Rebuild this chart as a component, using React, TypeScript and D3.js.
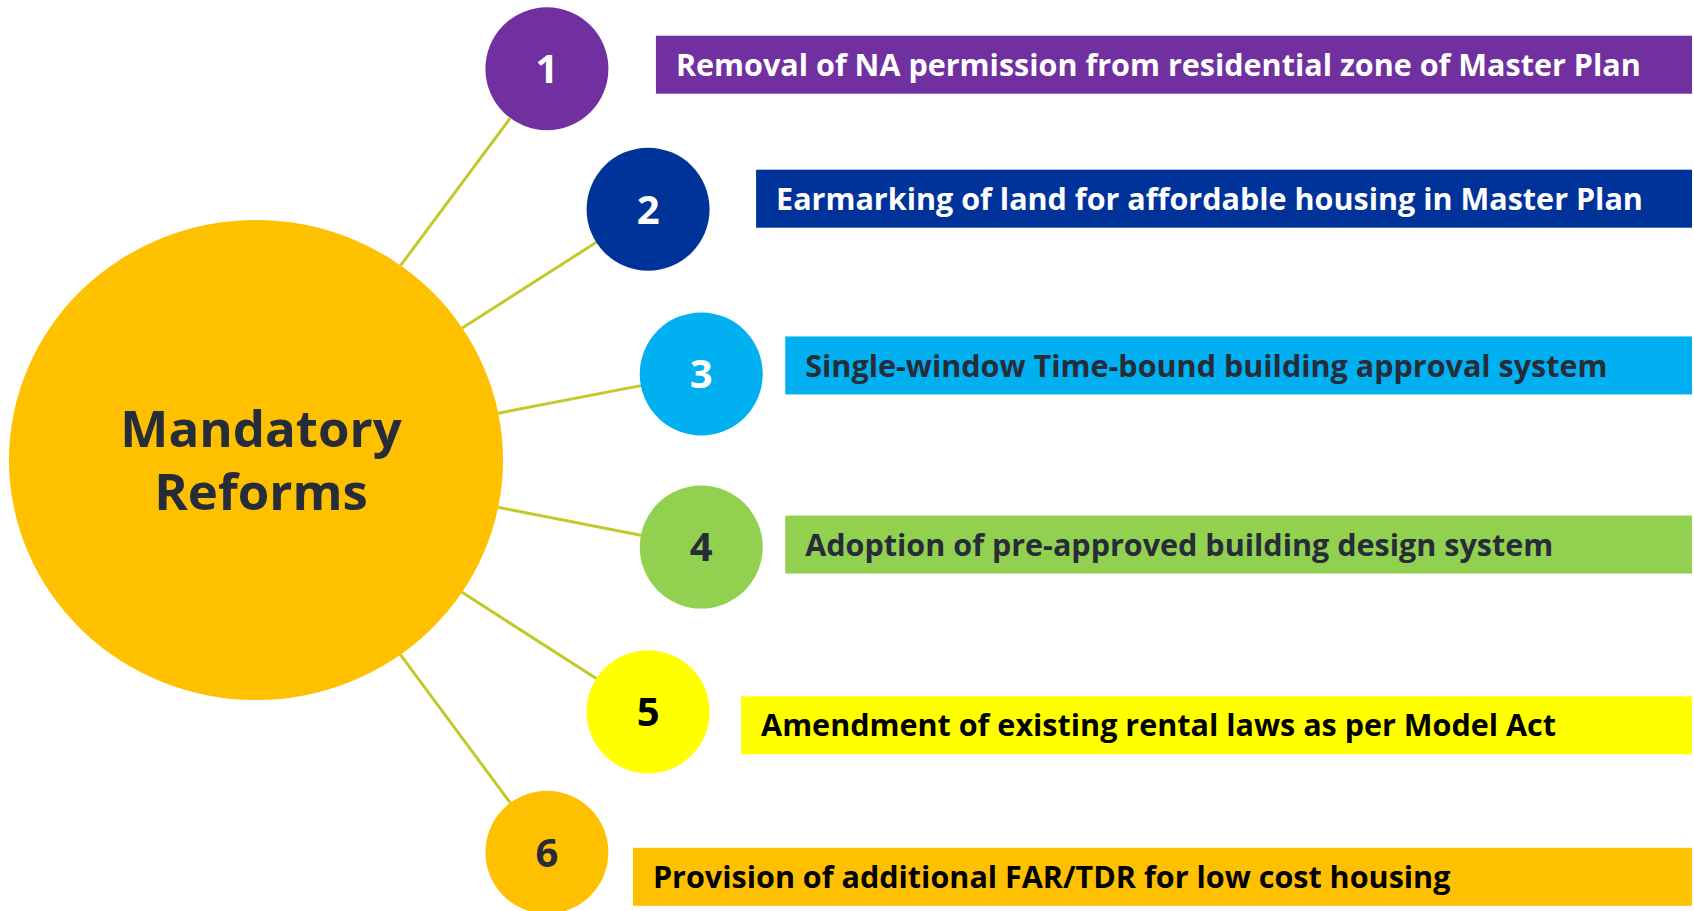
import React from "react";
import * as d3 from "d3";

const centerTitle = ["Mandatory", "Reforms"];
const stepNumbers = ["1", "2", "3", "4", "5", "6"];
const stepLabels = [
  "Removal of NA permission from residential zone of Master Plan",
  "Earmarking of land for affordable housing in Master Plan",
  "Single-window Time-bound building approval system",
  "Adoption of pre-approved building design system",
  "Amendment of existing rental laws as per Model Act",
  "Provision of additional FAR/TDR for low cost housing",
];
const stepFills = ["#7030a0", "#003399", "#00b0f0", "#92d050", "#ffff00", "#ffc000"];
const stepTextColors = ["#ffffff", "#ffffff", "#262c38", "#262c38", "#000000", "#000000"];
const numberColors = ["#ffffff", "#ffffff", "#ffffff", "#262c38", "#000000", "#262c38"];

// layout (not data)
const W = 1694;
const H = 911;
const HUB = { cx: 256, cy: 460, rx: 247, ry: 240, fill: "#ffc000" };
const ORBIT = { cx: 151, cy: 460.5, r: 557 };
const NODE_R = 61.5;
const BAR_H = 58;
const BAR_RIGHT = 1692;
const barShift: [number, number][] = [
  [109, -4],
  [108, -10.5],
  [84, -8.5],
  [84, -2.5],
  [93, 13.5],
  [86, 24.5],
];
const FONT = "'Open Sans', 'Noto Sans', sans-serif";
const CONDENSE = 0.985;

export default function App() {
  const angle = d3
    .scaleLinear()
    .domain([0, stepNumbers.length - 1])
    .range([(-44.7 * Math.PI) / 180, (44.7 * Math.PI) / 180]);

  const nodes = stepNumbers.map((n, i) => {
    const a = angle(i);
    const x = ORBIT.cx + ORBIT.r * Math.cos(a);
    const y = ORBIT.cy + ORBIT.r * Math.sin(a);
    return { n, i, x, y };
  });

  const link = d3.line<[number, number]>();

  return (
    <svg
      width={W}
      height={H}
      viewBox={`0 0 ${W} ${H}`}
      style={{ position: "absolute", left: 0, top: 0, background: "#fff" }}
    >
      <ellipse cx={HUB.cx} cy={HUB.cy} rx={HUB.rx} ry={HUB.ry} fill={HUB.fill} />
      {nodes.map((d) => {
        const dx = d.x - HUB.cx;
        const dy = d.y - HUB.cy;
        const len = Math.hypot(dx, dy);
        const ux = dx / len;
        const uy = dy / len;
        const t = 1 / Math.sqrt((ux * ux) / (HUB.rx * HUB.rx) + (uy * uy) / (HUB.ry * HUB.ry));
        const p0: [number, number] = [HUB.cx + ux * t, HUB.cy + uy * t];
        const p1: [number, number] = [d.x - ux * NODE_R, d.y - uy * NODE_R];
        return (
          <path key={"l" + d.i} d={link([p0, p1]) || ""} stroke="#c3c92b" strokeWidth={3} fill="none" />
        );
      })}
      <text
        textAnchor="middle"
        fontFamily={FONT}
        fontWeight={700}
        fontSize={51}
        fill="#262c38"
      >
        <tspan x={HUB.cx + 5} y={447}>{centerTitle[0]}</tspan>
        <tspan x={HUB.cx + 5} y={510}>{centerTitle[1]}</tspan>
      </text>
      {nodes.map((d) => (
        <g key={"n" + d.i}>
          <circle cx={d.x} cy={d.y} r={NODE_R} fill={stepFills[d.i]} />
          <text
            x={d.x}
            y={d.y}
            dy="0.36em"
            textAnchor="middle"
            fontFamily={FONT}
            fontWeight={700}
            fontSize={40}
            fill={numberColors[d.i]}
          >
            {d.n}
          </text>
        </g>
      ))}
      {nodes.map((d) => {
        const [sx, sy] = barShift[d.i];
        const x0 = d.x + sx;
        const yc = d.y + sy;
        const tx = x0 + 20;
        return (
          <g key={"b" + d.i}>
            <rect x={x0} y={yc - BAR_H / 2} width={BAR_RIGHT - x0} height={BAR_H} fill={stepFills[d.i]} />
            <text
              transform={`translate(${tx},${yc}) scale(${CONDENSE},1)`}
              dy="0.36em"
              fontFamily={FONT}
              fontWeight={700}
              fontSize={31}
              fill={stepTextColors[d.i]}
            >
              {stepLabels[d.i]}
            </text>
          </g>
        );
      })}
    </svg>
  );
}
